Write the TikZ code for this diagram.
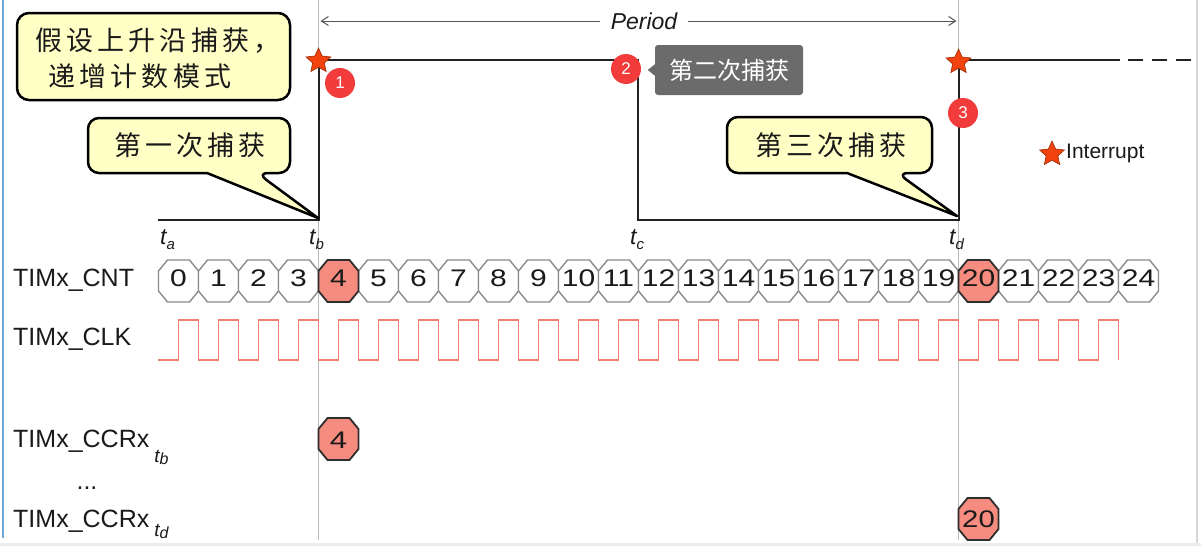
\documentclass[tikz,border=0pt]{standalone}
\usepackage{graphicx}
\usepackage{fontspec}
\setmainfont{Liberation Sans}
\setsansfont{Liberation Sans}
\newfontfamily\cjk{Noto Sans CJK SC}
\newfontfamily\cjkwide{Noto Sans CJK SC}[LetterSpace=15]
\usetikzlibrary{shapes.geometric,arrows.meta,calc}
\definecolor{calloutfill}{HTML}{FFFFC6}
\definecolor{salmon}{HTML}{F68C7F}
\definecolor{hlline}{HTML}{2E2E2E}
\definecolor{boxgray}{HTML}{8A8A8A}
\definecolor{clkred}{HTML}{EF8072}
\definecolor{badgered}{HTML}{F23C3C}
\definecolor{tipgray}{HTML}{6B6B6B}
\definecolor{starred}{HTML}{F2430F}
\definecolor{starline}{HTML}{9A2A00}
\definecolor{guidegray}{HTML}{BBBBBB}
\definecolor{sigblack}{HTML}{222222}
\definecolor{textdark}{HTML}{1A1A1A}
\definecolor{frameblue}{HTML}{6FA6DA}
\definecolor{framegray}{HTML}{EDEDED}
\definecolor{periodgray}{HTML}{555555}
\newcommand\octbox[3]{\path[#3] ({#1-20},{#2-10}) -- ({#1-20},{#2+10}) -- ({#1-11},{#2+21}) -- ({#1+11},{#2+21}) -- ({#1+20},{#2+10}) -- ({#1+20},{#2-10}) -- ({#1+11},{#2-21}) -- ({#1-11},{#2-21}) -- cycle;}
\newcommand\tlab[1]{{\itshape t\raisebox{-5pt}{\fontsize{15}{15}\selectfont #1}}}
\newcommand\ccrsub[2]{\hspace{5pt}\raisebox{-#2pt}{\itshape\fontsize{19}{19}\selectfont t\raisebox{-2pt}{\fontsize{16}{16}\selectfont #1}}}
\begin{document}
\begin{tikzpicture}[x=1pt,y=-1pt,
  guide/.style={draw=guidegray,line width=1.5pt},
  signal/.style={draw=sigblack,line width=2pt,line join=miter},
  callout/.style={draw=black,line width=2.5pt,fill=calloutfill,line join=round},
  cjktext/.style={font=\cjkwide\fontsize{27}{36}\selectfont,text=textdark,inner sep=0pt},
  irq/.style={star,star points=5,star point ratio=2.1,fill=starred,draw=starline,line width=0.6pt,minimum size=26pt,inner sep=0pt},
  badge/.style={circle,fill=badgered,text=white,minimum size=30pt,inner sep=0pt,font=\fontsize{17}{17}\selectfont},
  lbl/.style={font=\fontsize{25}{25}\selectfont,anchor=base west,inner sep=0pt,text=textdark},
  tl/.style={font=\fontsize{23}{23}\selectfont,anchor=base west,inner sep=0pt,text=textdark},
  numtxt/.style={font=\fontsize{24}{24}\selectfont,inner sep=0pt,text=textdark},
  cntgray/.style={draw=boxgray,line width=1.4pt,fill=white},
  cnthl/.style={draw=hlline,line width=1.8pt,fill=salmon},
  clk/.style={draw=clkred,line width=1.6pt},
  tip/.style={fill=tipgray,rounded corners=3pt,minimum width=148pt,minimum height=50pt,text=white,font=\cjk\fontsize{24}{24}\selectfont,inner sep=0pt},
  periodline/.style={draw=periodgray,line width=1pt},
  ]
\useasboundingbox (0,0) rectangle (1201,546);
\fill[white] (0,0) rectangle (1201,546);
% screenshot frame
\fill[framegray] (0,543) rectangle (1201,546);
\draw[draw=framegray!80!gray,line width=1.5pt] (1197,0) -- (1197,543);
\draw[frameblue,line width=2pt] (3,0) -- (3,538);

% guide lines
\coordinate (gbt) at (318.5,0); \coordinate (gbb) at (318.5,540);
\coordinate (gdt) at (958.5,0); \coordinate (gdb) at (958.5,540);
\draw[guide] (gbt) -- (gbb);
\draw[guide] (gdt) -- (gdb);

% period
\node[font=\itshape\fontsize{23}{23}\selectfont,inner xsep=11pt,inner ysep=0pt,text=textdark] (period) at (644,21) {Period};
\coordinate (pl) at (320.5,21); \coordinate (pr) at (956.5,21);
\draw[periodline,-{Straight Barb[length=7pt,width=9pt]}] (period.west) -- (pl);
\draw[periodline,-{Straight Barb[length=7pt,width=9pt]}] (period.east) -- (pr);

% signal
\coordinate (sa) at (158,220);
\coordinate (sb) at (318.5,220); \coordinate (sbh) at (318.5,60);
\coordinate (sch) at (638,60); \coordinate (sc) at (638,220);
\coordinate (sd) at (958.5,220); \coordinate (sdh) at (958.5,60);
\coordinate (se) at (1120,60); \coordinate (sf) at (1128,60); \coordinate (sg) at (1197,60);
\draw[signal] (sa) -- (sb) -- (sbh) -- (sch) -- (sc) -- (sd) -- (sdh) -- (se);
\draw[signal,dash pattern=on 15pt off 9pt] (sf) -- (sg);

% callout 1
\node[callout,rounded corners=12pt,minimum width=273pt,minimum height=87pt] (c1box) at (153.5,56.5) {};
\node[cjktext,align=left] (c1) at (158,58) {假设上升沿捕获，\\\hspace*{13pt}递增计数模式};

% callout 2
\draw[callout] (207,173) [rounded corners=11pt] -- (88,173) -- (88,118) -- (290,118) -- (290,173) -- (257,173) [sharp corners] -- (318,218) -- cycle;
\node[cjktext] (c2) at (190,145) {第一次捕获};

% callout 3
\draw[callout] (847,173) [rounded corners=11pt] -- (727,173) -- (727,117) -- (932,117) -- (932,173) -- (897,173) [sharp corners] -- (957,216) -- cycle;
\node[cjktext] (c3) at (831,145) {第三次捕获};

% stars
\node[irq] (s1) at (318.5,61) {};
\node[irq] (s3) at (958.5,62) {};
\node[irq] (s4) at (1052,154) {};
\node[font=\fontsize{21}{21}\selectfont,anchor=west,inner sep=0pt,text=textdark] (irqtxt) at (1066,153) {Interrupt};

% badges
\node[badge] (b1) at (340,83) {1};
\node[badge] (b2) at (626,69) {2};
\node[badge] (b3) at (963,113) {3};

% tooltip
\node[tip] (tip2) at (729,70) {第二次捕获};
\fill[tipgray] ($(tip2.west)+(0.5,-6)$) -- ($(tip2.west)+(-7,0)$) -- ($(tip2.west)+(0.5,6)$) -- cycle;

% time labels
\node[tl] (ta) at (160,244) {\tlab{a}};
\node[tl] (tb) at (309,244) {\tlab{b}};
\node[tl] (tc) at (630,244) {\tlab{c}};
\node[tl] (td) at (949,244) {\tlab{d}};

% counter
\foreach \i [evaluate=\i as \cx using 178.5+40*\i] in {0,...,3,5,6,...,19,21,22,23,24} {
  \octbox{\cx}{281}{cntgray}
  \node[numtxt] (cnt\i) at (\cx,278) {\scalebox{1.25}[1]{\i}};
}
\foreach \i [evaluate=\i as \cx using 178.5+40*\i] in {4,20} {
  \octbox{\cx}{281}{cnthl}
  \node[numtxt] (cnt\i) at (\cx,278) {\scalebox{1.25}[1]{\i}};
}

% clock
\draw[clk] (158,360) \foreach \k in {0,...,23} { -- ({178.5+40*\k},360) -- ({178.5+40*\k},320) -- ({198.5+40*\k},320) -- ({198.5+40*\k},360) };

% CCR values
\octbox{338.5}{439}{cnthl}
\node[numtxt] (ccr1) at (338.5,440.5) {\scalebox{1.3}[1]{4}};
\octbox{978.5}{519}{cnthl}
\node[numtxt] (ccr2) at (978.5,519) {\scalebox{1.22}[1]{20}};

% left labels
\node[lbl] (lcnt) at (13,286) {TIMx\_CNT};
\node[lbl] (lclk) at (13,345) {TIMx\_CLK};
\node[lbl] (lccr1) at (13,447) {TIMx\_CCRx\ccrsub{b}{15}};
\node[lbl,anchor=base] (ldots) at (87,489) {...};
\node[lbl] (lccr2) at (13,527) {TIMx\_CCRx\ccrsub{d}{9}};
\end{tikzpicture}
\end{document}
